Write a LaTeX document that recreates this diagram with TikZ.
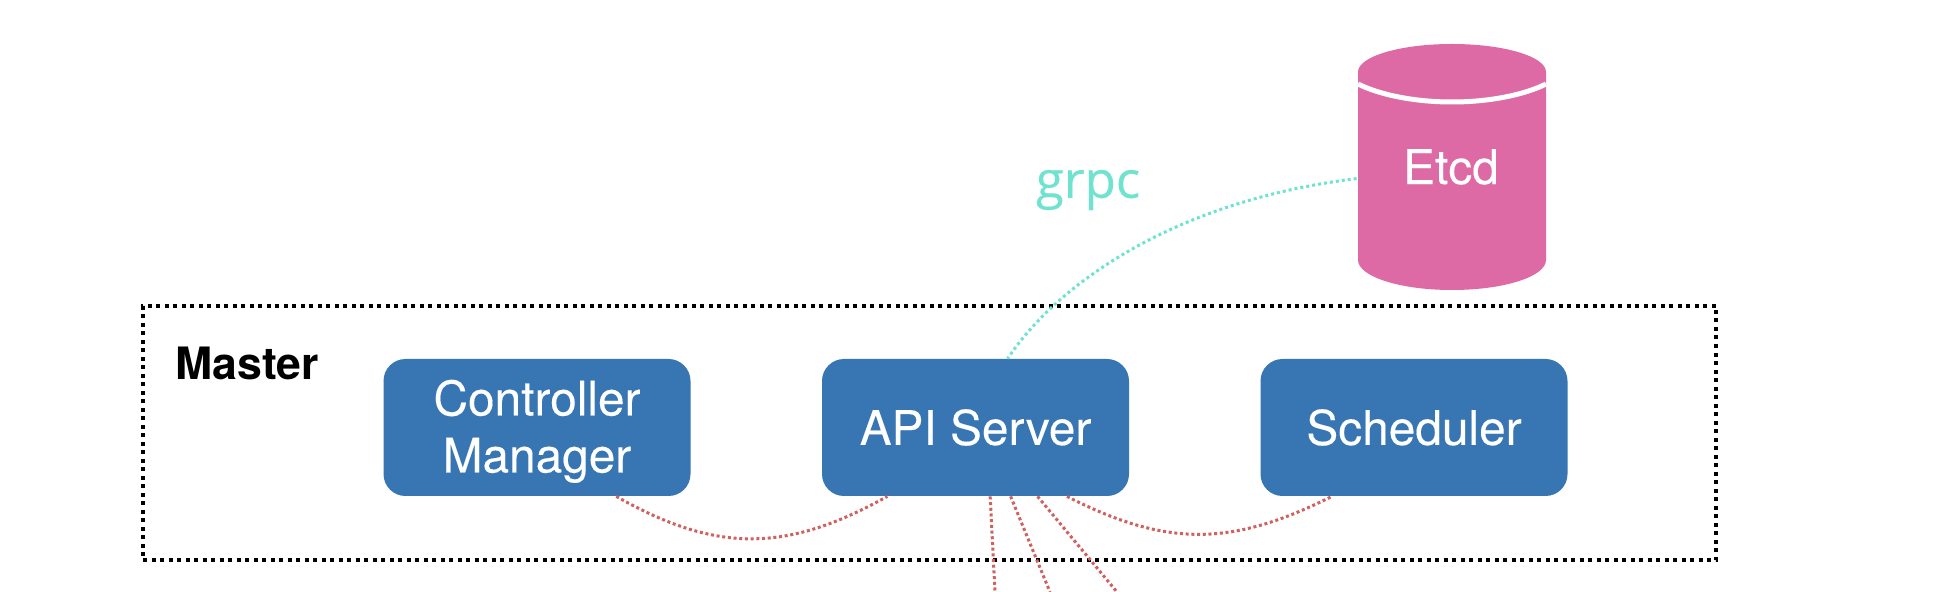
\documentclass[tikz,border=0pt]{standalone}
\usepackage{fontspec}
\setmainfont{TeX Gyre Heros}
\newfontfamily\boxfont[FakeBold=0.2]{TeX Gyre Heros}
\newfontfamily\grpcfont[FakeBold=0.2]{Open Sans}
\usetikzlibrary{calc}
\definecolor{boxblue}{HTML}{3775B3}
\definecolor{etcdpink}{HTML}{DD69A5}
\definecolor{linkred}{HTML}{CF6260}
\definecolor{linkteal}{HTML}{6FE3CF}
\tikzset{
  x=0.5pt,y=-0.5pt,
  compbox/.style={fill=boxblue,draw=none,rounded corners=11pt,minimum width=153.5pt,minimum height=68.5pt,inner sep=0pt,
    text=white,align=center,font=\boxfont\fontsize{23.9}{28.5}\selectfont},
  redlink/.style={draw=linkred,line width=1.5pt,dash pattern=on 1.5pt off 1.35pt},
  teallink/.style={draw=linkteal,line width=1.5pt,dash pattern=on 1.5pt off 1.5pt},
  masterframe/.style={draw=black,line width=2pt,dash pattern=on 2pt off 2.25pt,minimum width=786.5pt,minimum height=127pt,inner sep=0pt},
}
\begin{document}
\begin{tikzpicture}
\useasboundingbox (0,0) rectangle (1942,592);
\fill[white] (0,0) rectangle (1942,592);
\node[masterframe] (master) at (929.5,433) {};
\node[anchor=base west,font=\fontsize{22.3}{26}\selectfont\bfseries,text=black,inner sep=0pt] (masterlabel) at (175,380) {Master};
\node[compbox] (cm) at (537,427.5) {\raisebox{-8.75pt}[0pt][0pt]{\begin{tabular}{@{}c@{}}Controller\\Manager\end{tabular}}};
\node[compbox] (api) at (975.5,427.5) {API Server};
\node[compbox] (sched) at (1414,427.5) {Scheduler};
% Etcd cylinder
\fill[etcdpink] (1358,72) -- (1358,260) arc[start angle=180,end angle=0,x radius=94,y radius=30] -- (1546,72) -- cycle;
\fill[etcdpink] (1452,72) ellipse[x radius=94,y radius=28];
\draw[white,line width=2.5pt] (1358,84) .. controls (1380,95) and (1415,102) .. (1452,102) .. controls (1489,102) and (1524,95) .. (1546,84);
\node[minimum width=94pt,minimum height=123pt,inner sep=0pt,text=white,font=\boxfont\fontsize{23.9}{28}\selectfont] (etcd) at (1451,167) {Etcd};
\node[text=linkteal,font=\grpcfont\fontsize{25.5}{30}\selectfont,inner sep=0pt] (grpc) at (1088,190) {grpc};
% connectors
\draw[teallink] (etcd.-173) .. controls (1180,200) and (1060,280) .. (api.65);
\draw[redlink] (cm.-41) .. controls (716,553) and (786,553) .. (api.-142.3);
\draw[redlink] (api.-37.1) .. controls (1166,547) and (1231,547) .. (sched.-140.3);
\coordinate (outa) at (995,592);
\coordinate (outb) at (1050,592);
\coordinate (outc) at (1117,592);
\draw[redlink] (api.-78) -- (outa);
\draw[redlink] (api.-63.6) -- (outb);
\draw[redlink] (api.-48) -- (outc);
\end{tikzpicture}
\end{document}
